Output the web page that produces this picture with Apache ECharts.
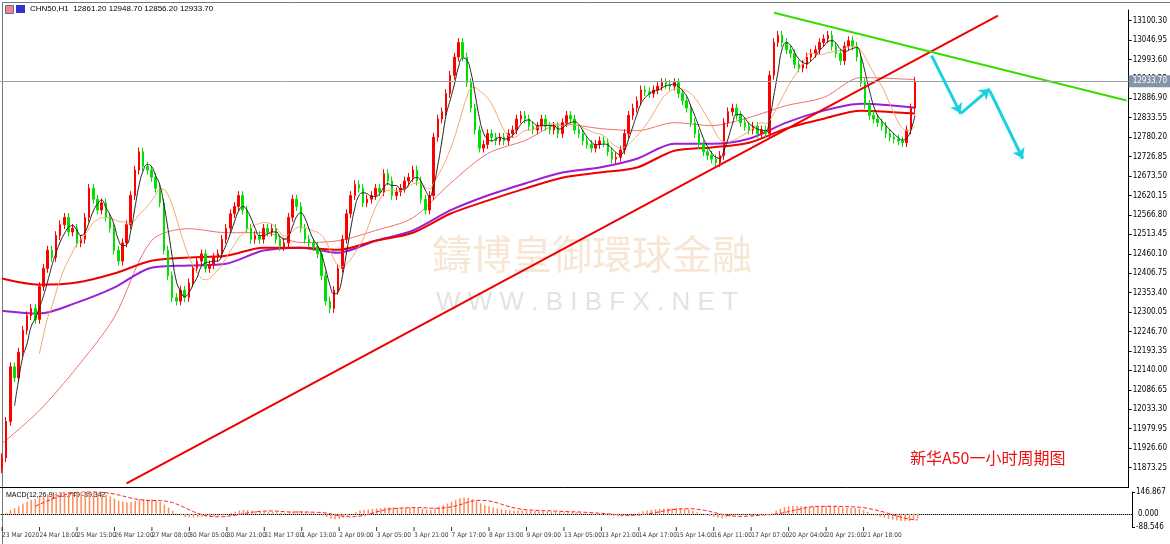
<!DOCTYPE html>
<html><head><meta charset="utf-8">
<script src="https://cdn.jsdelivr.net/npm/echarts@6/dist/echarts.min.js"></script>
<style>html,body{margin:0;padding:0;background:#fff}#c{width:1170px;height:544px}</style>
</head><body><div id="c"></div>
<script>
const closes=[11900,12000,12150,12120,12190,12250,12290,12310,12280,12370,
12420,12470,12450,12510,12540,12560,12520,12530,12490,12500,
12560,12640,12610,12580,12600,12560,12530,12470,12440,12490,
12540,12620,12690,12740,12700,12690,12670,12640,12600,12470,
12400,12340,12330,12360,12340,12380,12420,12440,12460,12420,
12430,12450,12460,12500,12530,12570,12590,12620,12580,12530,
12500,12510,12500,12530,12520,12530,12500,12480,12490,12560,
12610,12590,12530,12500,12490,12480,12460,12400,12330,12310,
12360,12420,12500,12570,12620,12650,12640,12600,12610,12620,
12640,12630,12680,12660,12620,12630,12640,12660,12670,12690,
12660,12610,12580,12620,12780,12830,12850,12900,12950,13000,
13040,13000,12930,12860,12800,12750,12760,12790,12780,12770,
12780,12770,12790,12800,12830,12840,12830,12810,12800,12810,
12830,12810,12800,12810,12790,12820,12840,12830,12800,12790,
12770,12760,12750,12760,12770,12765,12740,12720,12725,12745,
12790,12840,12860,12880,12910,12905,12900,12910,12920,12930,
12925,12920,12930,12900,12880,12860,12820,12790,12760,12740,
12730,12720,12710,12730,12820,12850,12860,12840,12820,12810,
12800,12810,12790,12800,12790,12950,13040,13060,13040,13020,
13010,12980,12970,12980,13000,13010,13020,13040,13050,13060,
13030,13010,12990,13030,13045,13030,13000,12930,12870,12840,
12830,12820,12810,12790,12780,12775,12770,12765,12800,12860,12933.7];
const firstOpen=11870;
const maIdx=[0,9,18,27,36,45,54,63,72,81,90,99,108,117,126,135,144,153,162,171,180,189,198,207,220];
const maPurple=[12304,12296,12326,12367,12422,12428,12433,12469,12477,12463,12496,12524,12579,12620,12653,12683,12697,12721,12762,12762,12776,12820,12853,12872,12861];
const maRed=[12392,12375,12381,12406,12441,12450,12455,12477,12477,12471,12496,12518,12570,12606,12639,12669,12683,12697,12743,12752,12765,12804,12831,12853,12845];
const maSalmon=[11939,12030,12148,12285,12496,12529,12518,12518,12491,12496,12524,12559,12653,12735,12771,12817,12804,12798,12820,12812,12834,12867,12889,12944,12938];
const timeLabels=['23 Mar 2020','24 Mar 18:00','25 Mar 15:00','26 Mar 12:00','27 Mar 08:00','30 Mar 05:00','30 Mar 21:00','31 Mar 17:00','1 Apr 13:00','2 Apr 09:00','3 Apr 05:00','3 Apr 21:00','7 Apr 17:00','8 Apr 13:00','9 Apr 09:00','13 Apr 05:00','13 Apr 21:00','14 Apr 17:00','15 Apr 14:00','16 Apr 11:00','17 Apr 07:00','20 Apr 04:00','20 Apr 21:00','21 Apr 18:00'];
const lastPrice=12933.7;
const TOTAL=272;

const cats=[];for(let i=0;i<TOTAL;i++)cats.push(i%9===0&&i/9<timeLabels.length?timeLabels[i/9]:'');
const candles=closes.map((c,i)=>{const o=i===0?firstOpen:closes[i-1];return [o,c,Math.min(o,c)-12,Math.max(o,c)+12];});
function sma(arr,n){return arr.map((v,i)=>{if(i<n-1)return null;let s=0;for(let k=i-n+1;k<=i;k++)s+=arr[k];return +(s/n).toFixed(2);});}
function sparse(vals){const a=new Array(closes.length).fill(null);maIdx.forEach((ix,k)=>a[ix]=vals[k]);return a;}
function ema(arr,n){const a=2/(n+1);let e=arr[0];return arr.map(v=>e=e+a*(v-e));}
const e12=ema(closes,12),e26=ema(closes,26);
const macd=closes.map((v,i)=>+(e12[i]-e26[i]).toFixed(2));
const sig=macd.map((v,i)=>{if(i<8)return null;let s=0;for(let k=i-8;k<=i;k++)s+=macd[k];return +(s/9).toFixed(2);});

const ch=echarts.init(document.getElementById('c'));
const F='Liberation Sans';
const NF='"Liberation Sans Narrow", "DejaVu Sans Condensed", "Liberation Sans"';
ch.setOption({
animation:false,
textStyle:{fontFamily:F},
grid:[{left:0,right:38,top:10,bottom:57},{left:0,right:38,top:492,bottom:17}],
xAxis:[{type:'category',data:cats,gridIndex:0,boundaryGap:true,axisLabel:{show:false},axisTick:{show:false},axisLine:{show:true,lineStyle:{color:'#000'}}},
{type:'category',data:cats,gridIndex:1,boundaryGap:true,axisLine:{lineStyle:{color:'#000'}},
 axisTick:{show:false},axisLabel:{show:false}}],
yAxis:[{type:'value',gridIndex:0,position:'right',min:11819.9,max:13129.3,interval:53.35,splitLine:{show:false},
 axisLine:{show:true,lineStyle:{color:'#000'}},axisTick:{show:true,length:3,lineStyle:{color:'#000'}},
 axisLabel:{fontSize:8,color:'#000',margin:4,showMinLabel:false,showMaxLabel:false,formatter:v=>v.toFixed(2),fontFamily:NF}},
{type:'value',gridIndex:1,position:'right',min:-88.546,max:146.867,interval:235.413,splitLine:{show:false},
 axisLine:{show:true,lineStyle:{color:'#000'}},axisTick:{show:true,length:3,lineStyle:{color:'#000'}},
 axisLabel:{fontSize:8,color:'#000',margin:4,formatter:v=>v.toFixed(3),fontFamily:NF}}],
series:[
{type:'line',data:sparse(maSalmon),connectNulls:true,smooth:0.3,symbol:'none',lineStyle:{color:'#f07070',width:1},z:1},
{type:'line',data:sparse(maPurple),connectNulls:true,smooth:0.3,symbol:'none',lineStyle:{color:'#9a1fd6',width:2},z:1},
{type:'line',data:sparse(maRed),connectNulls:true,smooth:0.3,symbol:'none',lineStyle:{color:'#ee0000',width:2},z:1},
{type:'candlestick',data:candles,barWidth:2,itemStyle:{color:'#ff0000',color0:'#00e000',borderColor:'#ff0000',borderColor0:'#00e000',borderWidth:1},z:2,
 markLine:{silent:true,symbol:'none',animation:false,data:[
  [{coord:[30,11830],lineStyle:{color:'#ee0000',width:2,type:'solid'}},{coord:[240,13114]}],
  [{coord:[186,13122],lineStyle:{color:'#33e000',width:2,type:'solid'}},{coord:[271,12881]}],
  {yAxis:lastPrice,lineStyle:{color:'#9aa0a8',width:1,type:'solid'},label:{show:true,position:'end',formatter:lastPrice.toFixed(2),backgroundColor:'#8594a8',color:'#fff',fontSize:8,padding:[2,4],distance:0,fontFamily:NF}}
 ],label:{show:false}}},
{type:'line',data:sma(closes,10),symbol:'none',smooth:true,lineStyle:{color:'#f5a46a',width:1},z:3},
{type:'line',data:sma(closes,4),symbol:'none',smooth:true,lineStyle:{color:'#222',width:1},z:3},
{type:'line',data:[],markLine:{silent:true,symbol:['none','arrow'],symbolSize:10,animation:false,label:{show:false},lineStyle:{color:'#1ad1e0',width:3,type:'solid'},data:[
  [{coord:[223.8,13004]},{coord:[231,12845]}],
  [{coord:[231,12845]},{coord:[238,12913]}],
  [{coord:[238,12908]},{coord:[245.9,12721]}]]}},
{type:'bar',xAxisIndex:1,yAxisIndex:1,data:macd,barWidth:1.5,itemStyle:{color:'#ff8c5a'},
 markLine:{silent:true,symbol:'none',animation:false,data:[{yAxis:0,lineStyle:{color:'#b0b0b0',type:'dotted',width:1},label:{show:true,position:'end',formatter:'0.000',color:'#000',fontSize:8,distance:6,fontFamily:NF}}]}},
{type:'line',xAxisIndex:1,yAxisIndex:1,data:sig,symbol:'none',lineStyle:{color:'#ff2020',type:'dashed',width:1}},
{type:'scatter',xAxisIndex:1,yAxisIndex:1,symbolSize:0,silent:true,
 data:timeLabels.map((t,k)=>({value:[k*9,-88.546],name:t})),
 label:{show:true,formatter:p=>p.name,position:'bottom',align:'left',offset:[1,2],fontSize:6.5,color:'#000',fontFamily:NF},
 labelLayout:{hideOverlap:false}},
{type:'scatter',xAxisIndex:1,yAxisIndex:1,symbol:'rect',symbolSize:[1,4],symbolOffset:[0,2],silent:true,itemStyle:{color:'#000'},
 data:timeLabels.map((t,k)=>[k*9,-88.546])}
],
graphic:[
{type:'rect',left:0,top:0,shape:{width:1169,height:543},style:{fill:'none',stroke:'#777',lineWidth:1},silent:true},
{type:'text',left:30,top:5,style:{text:'CHN50,H1  12861.20 12948.70 12856.20 12933.70',fontSize:8,fill:'#000',fontFamily:F}},
{type:'rect',left:5,top:5,shape:{width:8,height:8},style:{fill:'#e88',stroke:'#669'}},
{type:'rect',left:16,top:5,shape:{width:9,height:8},style:{fill:'#33c'}},
{type:'text',left:6,top:492,style:{text:'MACD(12,26,9) -11.749 -39.342',fontSize:7,fill:'#000',fontFamily:F}},
{type:'text',left:432,top:234,style:{text:'鑄博皇御環球金融',fontSize:40,fill:'rgba(240,200,160,0.45)',fontFamily:'Noto Sans CJK TC'},z:0,silent:true},
{type:'text',left:436,top:290,style:{text:'W W W . B I B F X . N E T',fontSize:26,fill:'rgba(200,200,200,0.5)',fontFamily:F},z:0,silent:true},
{type:'text',left:910,top:450,style:{text:'新华A50一小时周期图',fontSize:16,fill:'#ee1111',fontFamily:'Noto Sans CJK SC'}}
]
});
</script></body></html>
